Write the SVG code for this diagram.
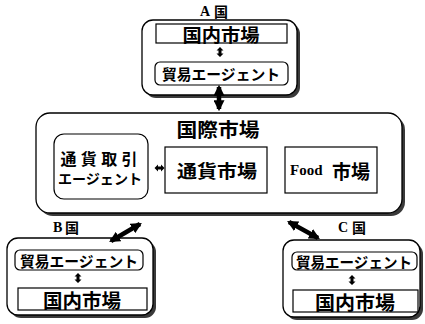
<svg xmlns="http://www.w3.org/2000/svg" width="425" height="324" viewBox="0 0 425 324">
<style>
.sh{fill:#3a3a3a;stroke:none}
.box{fill:#fff;stroke:#000;stroke-width:1.3}
.inner{fill:#fff;stroke:#000;stroke-width:1.2}
.jp{font-family:"Noto Sans CJK JP","Noto Sans CJK SC",sans-serif;font-weight:bold;fill:#000;text-anchor:middle;dominant-baseline:central}
.lat{font-family:"Liberation Serif","Noto Sans CJK JP",serif;font-weight:bold;fill:#000;dominant-baseline:central}
.big{stroke:#000;stroke-width:4.5;fill:none}
.small{fill:#000;stroke:none}
</style>
<defs>
<marker id="ah" viewBox="0 0 10 10" refX="8" refY="5" markerWidth="11" markerHeight="11" markerUnits="userSpaceOnUse" orient="auto-start-reverse">
<path d="M0,0 L10,5 L0,10 z" fill="#000"/>
</marker>
<path id="sv" d="M0,-5 L3.5,-1.5 L1.5,-1.5 L1.5,1.5 L3.5,1.5 L0,5 L-3.5,1.5 L-1.5,1.5 L-1.5,-1.5 L-3.5,-1.5 z"/>
</defs>

<g id="intl">
<rect class="sh" x="39" y="116" width="366" height="100" rx="14"/>
<rect class="box" x="36" y="113" width="366" height="100" rx="14"/>
<text class="jp" x="218" y="128" font-size="19" textLength="83" lengthAdjust="spacingAndGlyphs">国際市場</text>
</g>

<g id="fx-agent">
<rect class="inner" x="54" y="134" width="94" height="65" rx="10"/>
<text class="jp" x="99" y="158" font-size="16" textLength="77" lengthAdjust="spacing">通貨取引</text>
<text class="jp" x="100" y="178" font-size="14" textLength="84" lengthAdjust="spacingAndGlyphs">エージェント</text>
</g>

<g id="fx-market">
<rect class="inner" x="165" y="147" width="102" height="46"/>
<text class="jp" x="217" y="170" font-size="18" textLength="80" lengthAdjust="spacingAndGlyphs">通貨市場</text>
</g>

<g id="food-market">
<rect class="inner" x="285" y="147" width="92" height="46"/>
<text class="lat" x="290" y="170" font-size="15">Food</text>
<text class="jp" x="351" y="170" font-size="19">市場</text>
</g>

<g id="countryA">
<text class="lat" x="200" y="11" font-size="14">A</text>
<text class="jp" x="221" y="11" font-size="14">国</text>
<rect class="sh" x="145" y="23" width="155" height="75" rx="11"/>
<rect class="box" x="142" y="20" width="155" height="75" rx="11"/>
<rect class="inner" x="156" y="24" width="131" height="19"/>
<text class="jp" x="221" y="33.5" font-size="18" textLength="77" lengthAdjust="spacingAndGlyphs">国内市場</text>
<rect class="inner" x="155" y="62" width="133" height="23" rx="5"/>
<text class="jp" x="221" y="73.5" font-size="15" textLength="118" lengthAdjust="spacingAndGlyphs">貿易エージェント</text>
</g>

<g id="countryB">
<text class="lat" x="53" y="227" font-size="14">B</text>
<text class="jp" x="72" y="227" font-size="14">国</text>
<rect class="sh" x="10" y="241" width="146" height="77" rx="11"/>
<rect class="box" x="7" y="238" width="146" height="77" rx="11"/>
<rect class="inner" x="15" y="250" width="128" height="20" rx="5"/>
<text class="jp" x="79" y="260" font-size="15" textLength="118" lengthAdjust="spacingAndGlyphs">貿易エージェント</text>
<rect class="inner" x="18" y="288" width="129" height="22"/>
<text class="jp" x="82" y="299" font-size="19" textLength="78" lengthAdjust="spacingAndGlyphs">国内市場</text>
</g>

<g id="countryC">
<text class="lat" x="338" y="227" font-size="14">C</text>
<text class="jp" x="359" y="227" font-size="14">国</text>
<rect class="sh" x="286" y="243" width="137" height="77" rx="11"/>
<rect class="box" x="283" y="240" width="137" height="77" rx="11"/>
<rect class="inner" x="292" y="252" width="125" height="18" rx="5"/>
<text class="jp" x="354" y="261" font-size="15" textLength="116" lengthAdjust="spacingAndGlyphs">貿易エージェント</text>
<rect class="inner" x="293" y="290" width="125" height="22"/>
<text class="jp" x="355" y="301" font-size="19" textLength="80" lengthAdjust="spacingAndGlyphs">国内市場</text>
</g>

<g id="connectors">
<line class="big" x1="219" y1="87" x2="219" y2="109" marker-start="url(#ah)" marker-end="url(#ah)"/>
<line class="big" x1="111" y1="241" x2="140" y2="224" marker-start="url(#ah)" marker-end="url(#ah)"/>
<line class="big" x1="289" y1="222" x2="318" y2="238" marker-start="url(#ah)" marker-end="url(#ah)"/>
<use class="small" href="#sv" transform="translate(220,52)"/>
<use class="small" href="#sv" transform="translate(159.5,168) rotate(90)"/>
<use class="small" href="#sv" transform="translate(78,278)"/>
<use class="small" href="#sv" transform="translate(352,280)"/>
</g>
</svg>
